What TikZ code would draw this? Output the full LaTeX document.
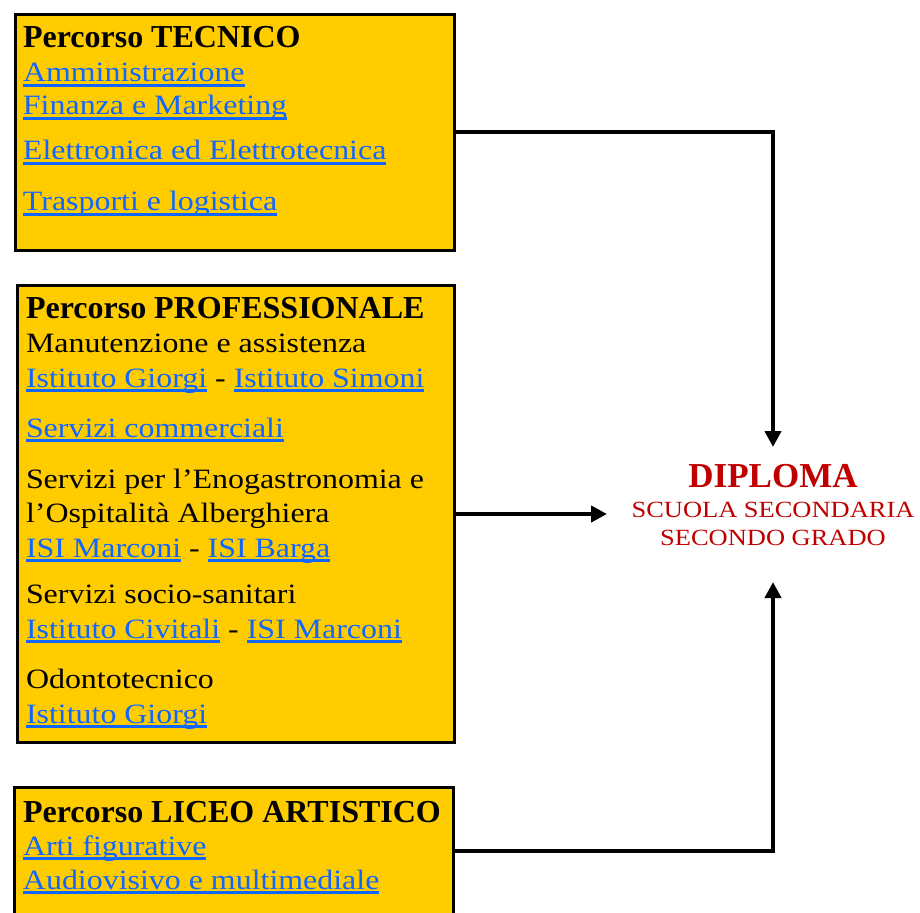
\documentclass[tikz,border=0pt]{standalone}
\usepackage{fontspec}
\setmainfont{Liberation Serif}
\newfontfamily\bodyfont[FakeStretch=1.14]{Liberation Serif}
\usepackage{xcolor}
\usepackage{tikz}
\usetikzlibrary{positioning}
\usetikzlibrary{arrows.meta}
\definecolor{boxyellow}{HTML}{FFCC00}
\definecolor{linkblue}{HTML}{1066FF}
\definecolor{diplred}{HTML}{C00000}
% underlined link text
\newcommand{\lnk}[1]{\textcolor{linkblue}{\setbox0\hbox{#1}\rlap{\rule[-4.7pt]{\wd0}{2.3pt}}\box0}}
% bold heading of a course box
\newcommand{\ptitle}[1]{{\normalfont\bfseries\fontsize{32}{34}\selectfont #1}}
\tikzset {
  % yellow course boxes
  course/.style = {draw, line width=2.7pt, fill=boxyellow, inner ysep=0pt, outer sep=0pt, anchor=base west},
  % arrows towards the diploma
  conn/.style = {line width=4pt, -{Triangle[width=16pt,length=16pt]}},
  diploma/.style = {inner sep=0pt, outer sep=0pt, anchor=base, text=diplred},
}

\begin{document}
\begin{tikzpicture}[x=1pt, y=1pt]
        \useasboundingbox (0,0) rectangle (920,-912);

        \node[course, inner xsep=7.65pt, text height=33.65pt, text depth=202.65pt] (tec) at (15.35,-48)
          {\parbox[t]{424pt}{\bodyfont\fontsize{28}{34}\selectfont
            \ptitle{Percorso TECNICO}\\
            \lnk{Amministrazione}\\[-1pt]
            \lnk{Finanza e Marketing}\\[11pt]
            \lnk{Elettronica ed Elettrotecnica}\\[17pt]
            \lnk{Trasporti e logistica}}};

        \node[course, inner xsep=8.65pt, text height=32.65pt, text depth=424.65pt] (prof) at (17.35,-318)
          {\parbox[t]{420pt}{\bodyfont\fontsize{28}{34}\selectfont
            \ptitle{Percorso PROFESSIONALE}\\
            Manutenzione e assistenza\\[1pt]
            \lnk{Istituto Giorgi} - \lnk{Istituto Simoni}\\[16pt]
            \lnk{Servizi commerciali}\\[17pt]
            Servizi per l’Enogastronomia e\\
            l’Ospitalità Alberghiera\\[1pt]
            \lnk{ISI Marconi} - \lnk{ISI Barga}\\[12pt]
            Servizi socio-sanitari\\[1pt]
            \lnk{Istituto Civitali} - \lnk{ISI Marconi}\\[16pt]
            Odontotecnico\\[1pt]
            \lnk{Istituto Giorgi}}};

        \node[course, inner xsep=8.65pt, text height=34.65pt, text depth=93pt] (lic) at (14.35,-822)
          {\parbox[t]{422pt}{\bodyfont\fontsize{28}{34}\selectfont
            \ptitle{Percorso LICEO ARTISTICO}\\[-1pt]
            \lnk{Arti figurative}\\
            \lnk{Audiovisivo e multimediale}}};

        \node[diploma, text height=40pt, text depth=95pt, minimum width=332pt] (dip) at (773,-487)
          {\parbox[t]{310pt}{\centering\bodyfont\fontsize{23.2}{28.5}\selectfont
            {\normalfont\bfseries\fontsize{35}{30}\selectfont DIPLOMA}\\[1.5pt]
            SCUOLA SECONDARIA\\
            SECONDO GRADO}};

        \draw[conn] (tec.east) -| (dip.north);
        \draw[conn] (prof.east) -- (prof.east -| dip.west);
        \draw[conn] (lic.east) -| (dip.south);
      \end{tikzpicture}
\end{document}
